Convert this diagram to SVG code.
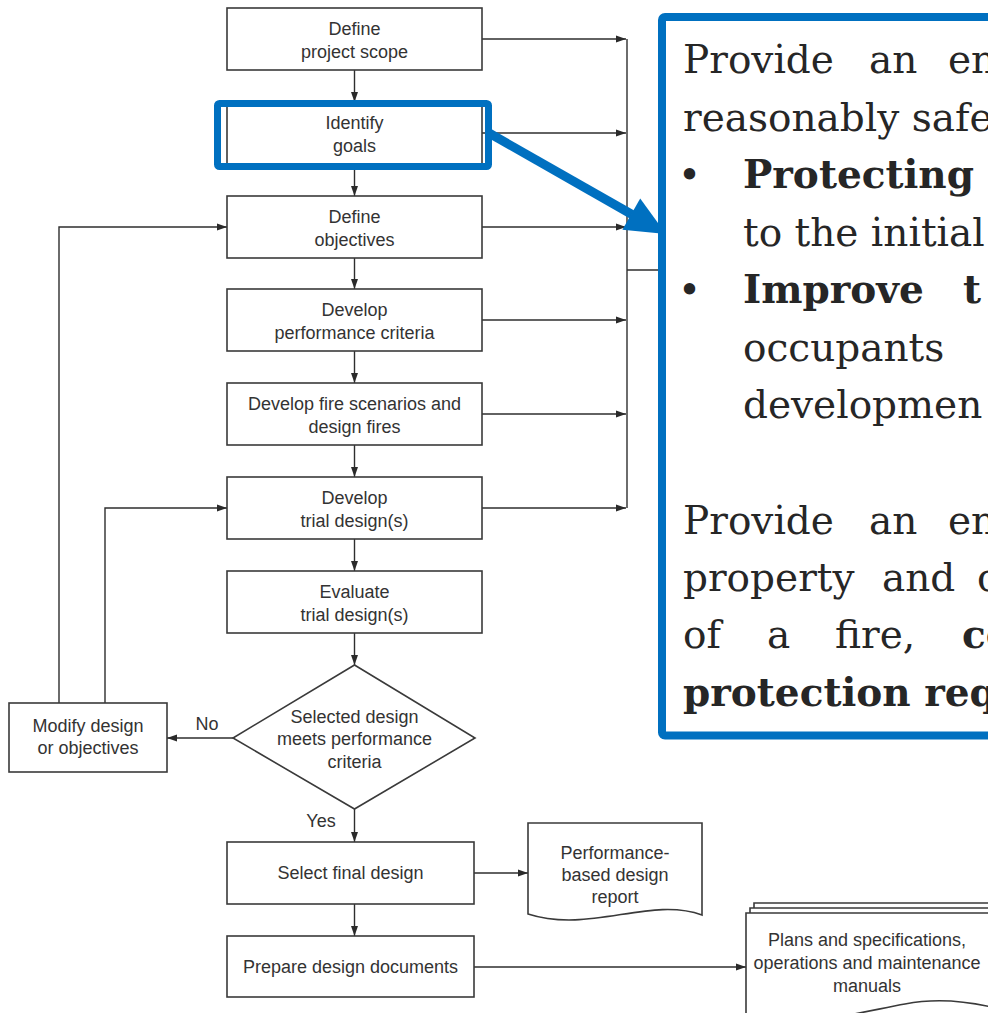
<svg xmlns="http://www.w3.org/2000/svg" width="988" height="1013" viewBox="0 0 988 1013">
<defs>
<marker id="ah" markerUnits="userSpaceOnUse" markerWidth="10" markerHeight="8" refX="10" refY="4" orient="auto">
<path d="M0,0.5 L10,4 L0,7.5 Z" fill="#2a2a2a"/>
</marker>
<style>
.box{fill:#fff;stroke:#3a3a3a;stroke-width:1.6}
.lbl{font-family:"Liberation Sans",Arial,sans-serif;font-size:18px;fill:#333;text-anchor:middle}
.con{fill:none;stroke:#2e2e2e;stroke-width:1.4}
.arr{fill:none;stroke:#2e2e2e;stroke-width:1.4;marker-end:url(#ah)}
.ct{font-family:"DejaVu Serif","Liberation Serif",serif;font-size:39px;fill:#262626}
.b{font-weight:bold}
</style>
</defs>
<rect width="988" height="1013" fill="#fff"/>

<g id="connectors">
<line class="arr" x1="354.5" y1="70" x2="354.5" y2="102"/>
<line class="arr" x1="354.5" y1="164" x2="354.5" y2="196"/>
<line class="arr" x1="354.5" y1="258" x2="354.5" y2="289"/>
<line class="arr" x1="354.5" y1="351" x2="354.5" y2="383"/>
<line class="arr" x1="354.5" y1="445" x2="354.5" y2="477"/>
<line class="arr" x1="354.5" y1="539" x2="354.5" y2="571"/>
<line class="arr" x1="354.5" y1="633" x2="354.5" y2="665"/>
<line class="arr" x1="354.5" y1="809" x2="354.5" y2="842"/>
<line class="arr" x1="354.5" y1="904" x2="354.5" y2="936"/>
<line class="arr" x1="482" y1="39" x2="626" y2="39"/>
<line class="arr" x1="482" y1="133" x2="626" y2="133"/>
<line class="arr" x1="482" y1="227" x2="626" y2="227"/>
<line class="arr" x1="482" y1="320" x2="626" y2="320"/>
<line class="arr" x1="482" y1="414" x2="626" y2="414"/>
<line class="arr" x1="482" y1="508" x2="626" y2="508"/>
<line class="con" x1="627" y1="39" x2="627" y2="508"/>
<line class="con" x1="627" y1="270" x2="665" y2="270"/>
<line class="arr" x1="233" y1="738" x2="167" y2="738"/>
<path class="arr" d="M59,703 V227 H227"/>
<path class="arr" d="M105,703 V508 H227"/>
<line class="arr" x1="474" y1="873" x2="528" y2="873"/>
<line class="arr" x1="474" y1="967" x2="746" y2="967"/>
</g>

<g id="n1"><rect class="box" x="227" y="8" width="255" height="62"/>
<text class="lbl" x="354.5" y="35">Define</text><text class="lbl" x="354.5" y="58">project scope</text></g>
<g id="n2"><rect class="box" x="227" y="102" width="255" height="62"/>
<text class="lbl" x="354.5" y="129">Identify</text><text class="lbl" x="354.5" y="152">goals</text></g>
<g id="n3"><rect class="box" x="227" y="196" width="255" height="62"/>
<text class="lbl" x="354.5" y="223">Define</text><text class="lbl" x="354.5" y="246">objectives</text></g>
<g id="n4"><rect class="box" x="227" y="289" width="255" height="62"/>
<text class="lbl" x="354.5" y="316">Develop</text><text class="lbl" x="354.5" y="339">performance criteria</text></g>
<g id="n5"><rect class="box" x="227" y="383" width="255" height="62"/>
<text class="lbl" x="354.5" y="410">Develop fire scenarios and</text><text class="lbl" x="354.5" y="433">design fires</text></g>
<g id="n6"><rect class="box" x="227" y="477" width="255" height="62"/>
<text class="lbl" x="354.5" y="504">Develop</text><text class="lbl" x="354.5" y="527">trial design(s)</text></g>
<g id="n7"><rect class="box" x="227" y="571" width="255" height="62"/>
<text class="lbl" x="354.5" y="598">Evaluate</text><text class="lbl" x="354.5" y="621">trial design(s)</text></g>
<g id="n8"><polygon class="box" points="354.5,665 475,738 354.5,809 233,738"/>
<text class="lbl" x="354.5" y="723">Selected design</text><text class="lbl" x="354.5" y="745">meets performance</text><text class="lbl" x="354.5" y="768">criteria</text></g>
<g id="n9"><rect class="box" x="9" y="703" width="158" height="69"/>
<text class="lbl" x="88" y="732">Modify design</text><text class="lbl" x="88" y="754">or objectives</text></g>
<g id="n10"><rect class="box" x="227" y="842" width="247" height="62"/>
<text class="lbl" x="350.5" y="879">Select final design</text></g>
<g id="n11"><rect class="box" x="227" y="936" width="247" height="61"/>
<text class="lbl" x="350.5" y="973">Prepare design documents</text></g>
<g id="n12"><path class="box" d="M528,823 H702 V915 C650,896 590,934 528,914 Z"/>
<text class="lbl" x="615" y="859">Performance-</text><text class="lbl" x="615" y="881">based design</text><text class="lbl" x="615" y="903">report</text></g>
<g id="n13"><path class="box" d="M754,913 V903 H1010"/>
<path class="box" d="M750,913 V908 H1010"/>
<path class="box" d="M746,1016 V913 H1010 V1012 C970,1000 935,998 905,1004 C860,1012 800,1030 746,1016 Z"/>
<text class="lbl" x="867" y="946">Plans and specifications,</text><text class="lbl" x="867" y="969">operations and maintenance</text><text class="lbl" x="867" y="992">manuals</text></g>
<text class="lbl" x="207" y="730">No</text>
<text class="lbl" x="321" y="827">Yes</text>

<g id="highlight">
<rect x="217.5" y="103.5" width="271" height="63" rx="2" fill="none" stroke="#0070C0" stroke-width="7"/>
<line x1="489" y1="133" x2="632" y2="214.5" stroke="#0070C0" stroke-width="9"/>
<polygon points="622.4,229.7 640.2,198.5 666,234" fill="#0070C0"/>
</g>

<g id="callout">
<rect x="662" y="17" width="420" height="718.5" rx="3" fill="#fff" stroke="#0070C0" stroke-width="8"/>
<text class="ct" y="73"><tspan x="683">Provide</tspan><tspan x="869">an</tspan><tspan x="948">en</tspan></text>
<text class="ct" x="683" y="130.5">reasonably safe</text>
<text class="ct" y="188"><tspan x="678">•</tspan><tspan x="743" class="b">Protecting</tspan></text>
<text class="ct" x="743" y="245.5">to the initial</text>
<text class="ct" y="303"><tspan x="678">•</tspan><tspan x="743" class="b">Improve</tspan><tspan x="963" class="b">t</tspan></text>
<text class="ct" x="743" y="360.5">occupants</text>
<text class="ct" x="743" y="418">developmen</text>
<text class="ct" y="534"><tspan x="683">Provide</tspan><tspan x="869">an</tspan><tspan x="948">en</tspan></text>
<text class="ct" y="591"><tspan x="683">property</tspan><tspan x="882">and</tspan><tspan x="977">c</tspan></text>
<text class="ct" y="648"><tspan x="683">of</tspan><tspan x="767">a</tspan><tspan x="835">fire,</tspan><tspan x="962" class="b">co</tspan></text>
<text class="ct b" x="683" y="706">protection req</text>
</g>
</svg>
